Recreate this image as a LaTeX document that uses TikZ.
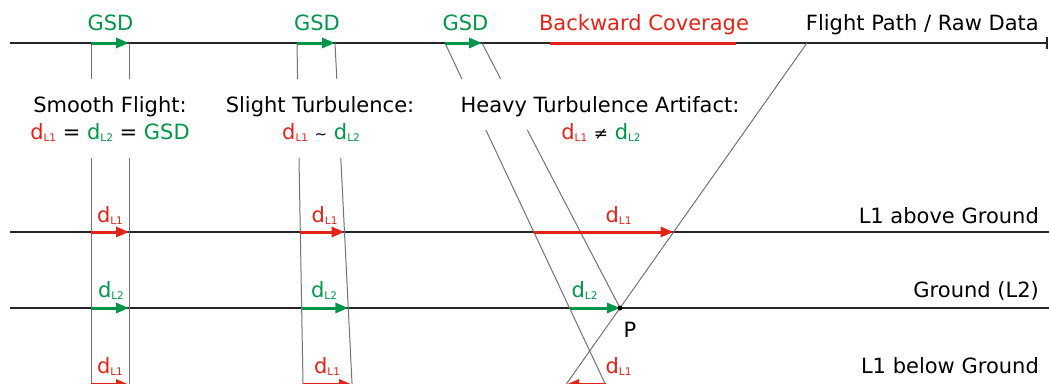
\documentclass[tikz,border=0pt]{standalone}
\usepackage{fontspec}
\setmainfont{DejaVu Sans}
\usepackage{tkz-euclide}
\usetikzlibrary{arrows.meta}
\definecolor{covred}{HTML}{E2231A}
\definecolor{gsdgreen}{HTML}{00964A}
\newcommand{\dL}[1]{d\raisebox{-2pt}{\fontsize{10.5}{10.5}\selectfont L#1}}

\begin{document}
\begin{tikzpicture}[x=1pt,y=-1pt,
        levelline/.style={line width=2pt,black!85},
        ray/.style={line width=1pt,black!55},
        redarrow/.style={line width=3pt,covred,-{Triangle[length=13pt,width=10pt]}},
        greenarrow/.style={line width=3pt,gsdgreen,-{Triangle[length=13pt,width=10pt]}},
        txt/.style={font=\fontsize{21}{25}\selectfont,inner sep=0pt,anchor=base}]
            \useasboundingbox (0,0) rectangle (1049,383);
            \clip (0,0) rectangle (1049,383);
            % levels
            \tkzDefPoint(10,43){Fa}
            \tkzDefPoint(1048,43){Fb}
            \tkzDefPoint(10,232){Ua}
            \tkzDefPoint(1056,232){Ub}
            \tkzDefPoint(10,308){Ga}
            \tkzDefPoint(1056,308){Gb}
            \tkzDefPoint(10,384.5){La}
            \tkzDefPoint(1056,384.5){Lb}
            % smooth flight
            \tkzDefPoint(91,43){A1}     \tkzDefPoint(129,43){B1}
            \tkzDefPoint(91,79){A2}     \tkzDefPoint(129,79){B2}
            \tkzDefPoint(91,158){A3}    \tkzDefPoint(129,158){B3}
            \tkzDefPoint(91,232){A4}    \tkzDefPoint(129,232){B4}
            \tkzDefPoint(91,308){A5}    \tkzDefPoint(129,308){B5}
            \tkzDefPoint(91,384.5){A6}  \tkzDefPoint(129,384.5){B6}
            \tkzDefPoint(91,395){A7}    \tkzDefPoint(129,395){B7}
            % slight turbulence
            \tkzDefPoint(297,43){C1}    \tkzDefPoint(335,43){D1}
            \tkzDefPoint(297.6,79){C2}  \tkzDefPoint(336.8,79){D2}
            \tkzDefPoint(299,158){C3}   \tkzDefPoint(340.8,158){D3}
            \tkzDefPoint(300.3,232){C4} \tkzDefPoint(344.5,232){D4}
            \tkzDefPoint(301.7,308){C5} \tkzDefPoint(348.3,308){D5}
            \tkzDefPoint(303,384.5){C6} \tkzDefPoint(352.1,384.5){D6}
            \tkzDefPoint(303.2,395){C7} \tkzDefPoint(352.6,395){D7}
            % heavy turbulence
            \tkzDefPoint(445,43){E1}    \tkzDefPoint(482,43){F1}
            \tkzDefPoint(461.9,79){E2}  \tkzDefPoint(500.7,79){F2}
            \tkzDefPoint(485.9,130){E3} \tkzDefPoint(527.3,130){F3}
            \tkzDefPoint(533.8,232){E4}
            \tkzDefPoint(569.6,308){E5} \tkzDefPoint(620,308){P}
            \tkzDefPoint(605.5,384.5){E6}
            \tkzDefPoint(610.4,395){E7}
            \tkzDefPoint(807,43){Q1}
            \tkzDefPoint(673.6,232){Q2}
            \tkzDefPoint(566,384.5){Q3}
            \tkzDefPoint(558.6,395){Q4}
            \tkzDefPoint(550,43){R1}    \tkzDefPoint(736,43){R2}
            \draw[levelline,-{Bar[width=12pt]}] (Fa) -- (Fb);
            \draw[levelline] (Ua) -- (Ub) (Ga) -- (Gb) (La) -- (Lb);
            \draw[ray] (A1) -- (A2) (A3) -- (A7) (B1) -- (B2) (B3) -- (B7);
            \draw[ray] (C1) -- (C2) (C3) -- (C7) (D1) -- (D2) (D3) -- (D7);
            \draw[ray] (E1) -- (E2) (E3) -- (E7) (F1) -- (F2) (F3) -- (P) (Q1) -- (Q4);
            \draw[line width=3pt,covred] (R1) -- (R2);
            \draw[greenarrow] (A1) -- (B1);
            \draw[greenarrow] (C1) -- (D1);
            \draw[greenarrow] (E1) -- (F1);
            \draw[greenarrow] (A5) -- (B5);
            \draw[greenarrow] (C5) -- (D5);
            \draw[greenarrow] (E5) -- (P);
            \draw[redarrow] (A4) -- (B4);
            \draw[redarrow] (C4) -- (D4);
            \draw[redarrow] (E4) -- (Q2);
            \draw[redarrow] (A6) -- (B6);
            \draw[redarrow] (C6) -- (D6);
            \draw[redarrow] (E6) -- (Q3);
            \fill (P) circle (2.5);
            % texts
            \node[txt,gsdgreen] (gsdS) at (110.5,30) {GSD};
            \node[txt,gsdgreen] (gsdT) at (317,30) {GSD};
            \node[txt,gsdgreen] (gsdH) at (465.5,30) {GSD};
            \node[txt,covred] (cover) at (644,30) {Backward Coverage};
            \node[txt,anchor=base east] (path) at (1039,30) {Flight Path / Raw Data};
            \node[txt] (smooth) at (110,112) {Smooth Flight:};
            \node[txt] (smoothEq) at (110,139) {\textcolor{covred}{\dL1} = \textcolor{gsdgreen}{\dL2} = \textcolor{gsdgreen}{GSD}};
            \node[txt] (slight) at (320,112) {Slight Turbulence:};
            \node[txt] (slightEq) at (321,139) {\textcolor{covred}{\dL1} {\fontsize{15}{15}\selectfont\textasciitilde} \textcolor{gsdgreen}{\dL2}};
            \node[txt] (heavy) at (600,112) {Heavy Turbulence Artifact:};
            \node[txt] (heavyEq) at (601,139) {\textcolor{covred}{\dL1} {\fontsize{17}{17}\selectfont≠} \textcolor{gsdgreen}{\dL2}};
            \node[txt,covred] (dSa) at (110,222) {\dL1};
            \node[txt,gsdgreen] (dSg) at (111,297) {\dL2};
            \node[txt,covred] (dSb) at (110,373) {\dL1};
            \node[txt,covred] (dTa) at (324.5,222) {\dL1};
            \node[txt,gsdgreen] (dTg) at (324,297) {\dL2};
            \node[txt,covred] (dTb) at (327,373) {\dL1};
            \node[txt,covred] (dHa) at (618.5,222) {\dL1};
            \node[txt,gsdgreen] (dHg) at (584.5,297) {\dL2};
            \node[txt,covred] (dHb) at (618.5,373) {\dL1};
            \node[txt] (lblP) at (630,337) {P};
            \node[txt,anchor=base east] (above) at (1039,223) {L1 above Ground};
            \node[txt,anchor=base east] (ground) at (1039,297) {Ground (L2)};
            \node[txt,anchor=base east] (below) at (1039,373) {L1 below Ground};
        \end{tikzpicture}
\end{document}
